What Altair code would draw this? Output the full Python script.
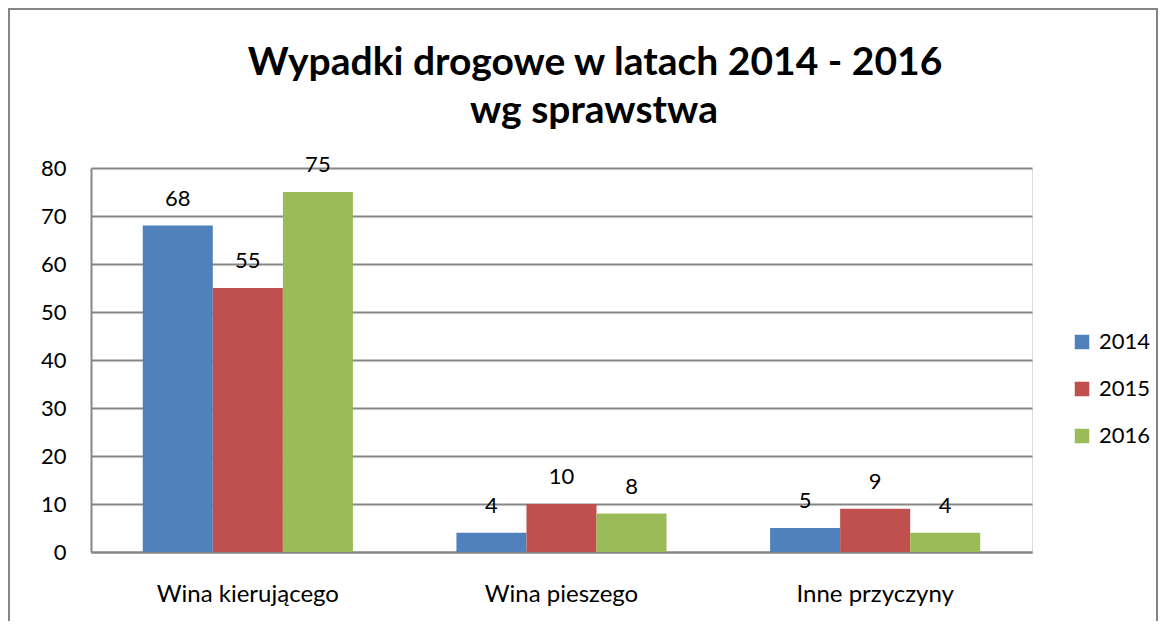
import altair as alt
import pandas as pd

categories = ["Wina kierującego", "Wina pieszego", "Inne przyczyny"]
years = ["2014", "2015", "2016"]
v2014 = [68, 4, 5]
v2015 = [55, 10, 9]
v2016 = [75, 8, 4]
colors = ["#4F81BD", "#C0504D", "#9BBB59"]
title_lines = ["Wypadki drogowe w latach 2014 - 2016", "wg sprawstwa"]

rows = []
for i, c in enumerate(categories):
    for y, vals in zip(years, [v2014, v2015, v2016]):
        rows.append({"cat": c, "year": y, "value": vals[i]})
df = pd.DataFrame(rows)

FONT = "Lato"
FS = 22

base = alt.Chart(df).encode(
    x=alt.X("cat:N", sort=categories, title=None,
            scale=alt.Scale(paddingInner=0.33, paddingOuter=0.165),
            axis=alt.Axis(labelAngle=0, labelFontSize=24, labelPadding=30, ticks=False,
                          domainColor="#868686", domainWidth=2, labelColor="black",
                          labelFont=FONT, labelLimit=0)),
    xOffset=alt.XOffset("year:N", sort=years),
)

bars = base.mark_bar().encode(
    y=alt.Y("value:Q", title=None,
            scale=alt.Scale(domain=[0, 80]),
            axis=alt.Axis(values=[0, 10, 20, 30, 40, 50, 60, 70, 80], labelFontSize=FS,
                          labelPadding=25, ticks=False, domainColor="#868686", domainWidth=2,
                          gridColor="#868686", gridWidth=2, labelColor="black", labelFont=FONT)),
    color=alt.Color("year:N", sort=years, scale=alt.Scale(domain=years, range=colors),
                    legend=alt.Legend(title=None, orient="none", legendX=980, legendY=163,
                                      symbolType="square", symbolSize=210, symbolStrokeWidth=0,
                                      labelFontSize=FS, labelFont=FONT, labelColor="black",
                                      rowPadding=25, labelOffset=6)),
)

labels = base.mark_text(baseline="bottom", dy=-15, fontSize=FS, font=FONT, color="black").encode(
    y=alt.Y("value:Q"),
    text=alt.Text("value:Q"),
)

tdf = pd.DataFrame({"t": title_lines, "i": [0, 1]})
title1 = alt.Chart(tdf.iloc[[0]]).mark_text(
    fontSize=39, font=FONT, fontWeight="bold", color="black", baseline="middle"
).encode(text="t:N", x=alt.value(504), y=alt.value(63 - 168))
title2 = alt.Chart(tdf.iloc[[1]]).mark_text(
    fontSize=39, font=FONT, fontWeight="bold", color="black", baseline="middle"
).encode(text="t:N", x=alt.value(503), y=alt.value(111 - 168))

border = alt.Chart(pd.DataFrame({"a": [0]})).mark_rect(
    fill=None, stroke="#868686", strokeWidth=2
).encode(x=alt.value(-82), x2=alt.value(1157 - 91), y=alt.value(-159), y2=alt.value(629 - 168 + 1))

chart = alt.layer(border, bars, labels, title1, title2).properties(
    width=941, height=384,
    padding={"left": 83, "top": 160, "right": 126, "bottom": 69},
    autosize=alt.AutoSizeParams(type="none"),
).configure_view(stroke=None).configure(background="white")

chart.save("out.html", embed_options={"renderer": "svg", "actions": False})
